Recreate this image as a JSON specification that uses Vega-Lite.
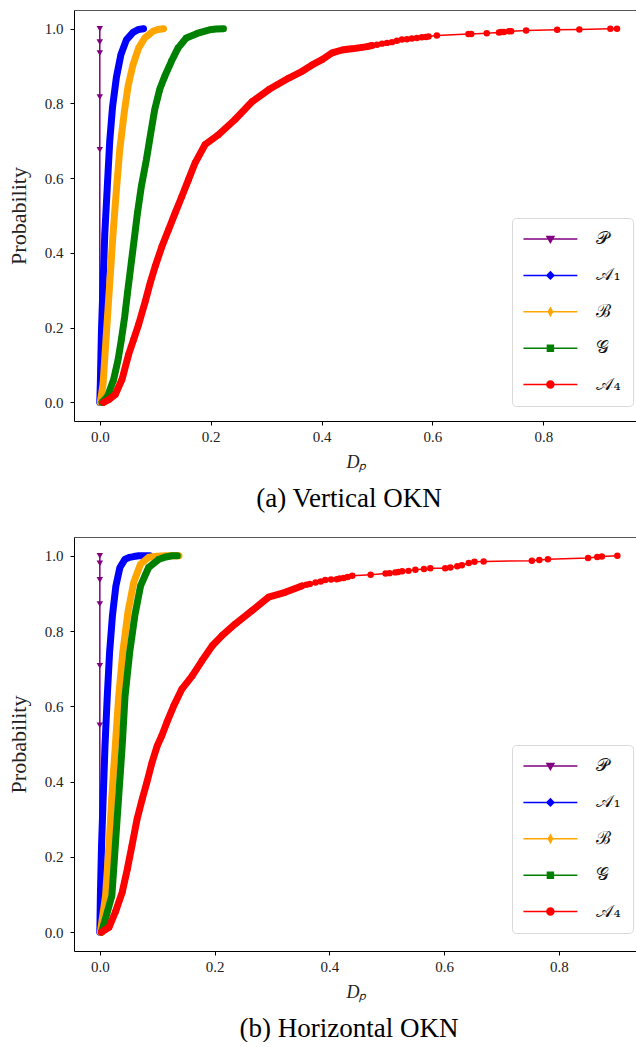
{
  "$schema": "https://vega.github.io/schema/vega-lite/v6.json",
  "padding": {"left": 7, "top": 10, "right": 0, "bottom": 0},
  "background": "white",
  "config": {
    "view": {"stroke": null},
    "axis": {
      "domainColor": "black", "tickColor": "black", "tickSize": 4, "grid": false,
      "labelFont": "Liberation Serif", "labelFontSize": 15, "labelColor": "#222",
      "titleFont": "Liberation Serif", "titleFontWeight": "normal", "titleColor": "#222",
      "labelFlush": false, "labelOverlap": false
    }
  },
  "datasets": {
    "v": [
      {"series":"P","x":0,"y":0},{"series":"P","x":0,"y":0.676},{"series":"P","x":0,"y":0.817},{"series":"P","x":0,"y":0.935},{"series":"P","x":0,"y":0.964},{"series":"P","x":0,"y":1},
      {"series":"A1","x":0,"y":0},{"series":"A1","x":0.001,"y":0.05},{"series":"A1","x":0.003,"y":0.19},{"series":"A1","x":0.006,"y":0.32},{"series":"A1","x":0.009,"y":0.45},{"series":"A1","x":0.014,"y":0.59},{"series":"A1","x":0.018,"y":0.7},{"series":"A1","x":0.023,"y":0.79},{"series":"A1","x":0.03,"y":0.87},{"series":"A1","x":0.038,"y":0.93},{"series":"A1","x":0.048,"y":0.97},{"series":"A1","x":0.06,"y":0.99},{"series":"A1","x":0.07,"y":0.998},{"series":"A1","x":0.079,"y":1},
      {"series":"B","x":0.001,"y":0},{"series":"B","x":0.006,"y":0.05},{"series":"B","x":0.012,"y":0.186},{"series":"B","x":0.018,"y":0.32},{"series":"B","x":0.024,"y":0.453},{"series":"B","x":0.03,"y":0.569},{"series":"B","x":0.036,"y":0.676},{"series":"B","x":0.044,"y":0.774},{"series":"B","x":0.051,"y":0.846},{"series":"B","x":0.06,"y":0.904},{"series":"B","x":0.07,"y":0.948},{"series":"B","x":0.081,"y":0.975},{"series":"B","x":0.096,"y":0.993},{"series":"B","x":0.105,"y":0.998},{"series":"B","x":0.115,"y":1},
      {"series":"G","x":0.004,"y":0},{"series":"G","x":0.014,"y":0.016},{"series":"G","x":0.025,"y":0.061},{"series":"G","x":0.033,"y":0.114},{"series":"G","x":0.039,"y":0.168},{"series":"G","x":0.045,"y":0.23},{"series":"G","x":0.05,"y":0.293},{"series":"G","x":0.056,"y":0.364},{"series":"G","x":0.062,"y":0.435},{"series":"G","x":0.068,"y":0.507},{"series":"G","x":0.075,"y":0.578},{"series":"G","x":0.084,"y":0.649},{"series":"G","x":0.092,"y":0.721},{"series":"G","x":0.099,"y":0.783},{"series":"G","x":0.108,"y":0.837},{"series":"G","x":0.117,"y":0.872},{"series":"G","x":0.129,"y":0.912},{"series":"G","x":0.141,"y":0.948},{"series":"G","x":0.156,"y":0.975},{"series":"G","x":0.177,"y":0.988},{"series":"G","x":0.198,"y":0.997},{"series":"G","x":0.21,"y":0.999},{"series":"G","x":0.223,"y":1},
      {"series":"A4","x":0.007,"y":0},{"series":"A4","x":0.016,"y":0.007},{"series":"A4","x":0.028,"y":0.021},{"series":"A4","x":0.04,"y":0.061},{"series":"A4","x":0.052,"y":0.128},{"series":"A4","x":0.061,"y":0.168},{"series":"A4","x":0.07,"y":0.208},{"series":"A4","x":0.082,"y":0.27},{"series":"A4","x":0.091,"y":0.32},{"series":"A4","x":0.1,"y":0.364},{"series":"A4","x":0.112,"y":0.417},{"series":"A4","x":0.124,"y":0.462},{"series":"A4","x":0.136,"y":0.507},{"series":"A4","x":0.148,"y":0.551},{"series":"A4","x":0.16,"y":0.596},{"series":"A4","x":0.172,"y":0.641},{"series":"A4","x":0.19,"y":0.69},{"series":"A4","x":0.214,"y":0.716},{"series":"A4","x":0.244,"y":0.757},{"series":"A4","x":0.275,"y":0.805},{"series":"A4","x":0.305,"y":0.837},{"series":"A4","x":0.341,"y":0.868},{"series":"A4","x":0.365,"y":0.886},{"series":"A4","x":0.383,"y":0.903},{"series":"A4","x":0.401,"y":0.917},{"series":"A4","x":0.419,"y":0.935},{"series":"A4","x":0.437,"y":0.943},{"series":"A4","x":0.446,"y":0.945},{"series":"A4","x":0.455,"y":0.946},{"series":"A4","x":0.464,"y":0.948},{"series":"A4","x":0.473,"y":0.95},{"series":"A4","x":0.482,"y":0.952},{"series":"A4","x":0.491,"y":0.955},{"series":"A4","x":0.5,"y":0.957},{"series":"A4","x":0.509,"y":0.96},{"series":"A4","x":0.518,"y":0.962},{"series":"A4","x":0.527,"y":0.964},{"series":"A4","x":0.536,"y":0.968},{"series":"A4","x":0.545,"y":0.971},{"series":"A4","x":0.554,"y":0.972},{"series":"A4","x":0.563,"y":0.974},{"series":"A4","x":0.572,"y":0.975},{"series":"A4","x":0.581,"y":0.977},{"series":"A4","x":0.588,"y":0.978},{"series":"A4","x":0.593,"y":0.979},{"series":"A4","x":0.608,"y":0.982},{"series":"A4","x":0.665,"y":0.986},{"series":"A4","x":0.67,"y":0.986},{"series":"A4","x":0.698,"y":0.988},{"series":"A4","x":0.72,"y":0.99},{"series":"A4","x":0.724,"y":0.991},{"series":"A4","x":0.729,"y":0.991},{"series":"A4","x":0.738,"y":0.993},{"series":"A4","x":0.742,"y":0.993},{"series":"A4","x":0.769,"y":0.995},{"series":"A4","x":0.825,"y":0.997},{"series":"A4","x":0.865,"y":0.998},{"series":"A4","x":0.921,"y":1},{"series":"A4","x":0.933,"y":1}
    ],
    "h": [
      {"series":"P","x":0,"y":0},{"series":"P","x":0,"y":0.55},{"series":"P","x":0,"y":0.708},{"series":"P","x":0,"y":0.872},{"series":"P","x":0,"y":0.936},{"series":"P","x":0,"y":0.98},{"series":"P","x":0,"y":1},
      {"series":"A1","x":0,"y":0},{"series":"A1","x":0.001,"y":0.097},{"series":"A1","x":0.003,"y":0.23},{"series":"A1","x":0.006,"y":0.363},{"series":"A1","x":0.009,"y":0.495},{"series":"A1","x":0.013,"y":0.628},{"series":"A1","x":0.017,"y":0.743},{"series":"A1","x":0.022,"y":0.841},{"series":"A1","x":0.028,"y":0.92},{"series":"A1","x":0.035,"y":0.969},{"series":"A1","x":0.044,"y":0.991},{"series":"A1","x":0.052,"y":0.996},{"series":"A1","x":0.059,"y":0.998},{"series":"A1","x":0.068,"y":1},{"series":"A1","x":0.083,"y":1},{"series":"A1","x":0.087,"y":1},
      {"series":"B","x":0.001,"y":0},{"series":"B","x":0.01,"y":0.097},{"series":"B","x":0.016,"y":0.23},{"series":"B","x":0.021,"y":0.363},{"series":"B","x":0.027,"y":0.495},{"series":"B","x":0.033,"y":0.628},{"series":"B","x":0.04,"y":0.743},{"series":"B","x":0.049,"y":0.85},{"series":"B","x":0.059,"y":0.929},{"series":"B","x":0.071,"y":0.978},{"series":"B","x":0.085,"y":0.996},{"series":"B","x":0.1,"y":0.999},{"series":"B","x":0.115,"y":1},{"series":"B","x":0.138,"y":1},
      {"series":"G","x":0.003,"y":0},{"series":"G","x":0.013,"y":0.053},{"series":"G","x":0.021,"y":0.097},{"series":"G","x":0.027,"y":0.23},{"series":"G","x":0.033,"y":0.363},{"series":"G","x":0.039,"y":0.495},{"series":"G","x":0.044,"y":0.628},{"series":"G","x":0.052,"y":0.743},{"series":"G","x":0.061,"y":0.841},{"series":"G","x":0.071,"y":0.92},{"series":"G","x":0.085,"y":0.969},{"series":"G","x":0.103,"y":0.991},{"series":"G","x":0.115,"y":0.997},{"series":"G","x":0.126,"y":1},{"series":"G","x":0.135,"y":1},
      {"series":"A4","x":0.003,"y":0},{"series":"A4","x":0.016,"y":0.013},{"series":"A4","x":0.027,"y":0.053},{"series":"A4","x":0.039,"y":0.106},{"series":"A4","x":0.048,"y":0.168},{"series":"A4","x":0.056,"y":0.23},{"series":"A4","x":0.065,"y":0.301},{"series":"A4","x":0.074,"y":0.354},{"series":"A4","x":0.082,"y":0.398},{"series":"A4","x":0.091,"y":0.451},{"series":"A4","x":0.1,"y":0.495},{"series":"A4","x":0.108,"y":0.522},{"series":"A4","x":0.117,"y":0.558},{"series":"A4","x":0.129,"y":0.602},{"series":"A4","x":0.143,"y":0.646},{"series":"A4","x":0.161,"y":0.681},{"series":"A4","x":0.178,"y":0.721},{"series":"A4","x":0.196,"y":0.761},{"series":"A4","x":0.213,"y":0.788},{"series":"A4","x":0.236,"y":0.819},{"series":"A4","x":0.265,"y":0.854},{"series":"A4","x":0.294,"y":0.89},{"series":"A4","x":0.323,"y":0.903},{"series":"A4","x":0.352,"y":0.92},{"series":"A4","x":0.36,"y":0.923},{"series":"A4","x":0.366,"y":0.925},{"series":"A4","x":0.376,"y":0.929},{"series":"A4","x":0.385,"y":0.932},{"series":"A4","x":0.393,"y":0.936},{"series":"A4","x":0.403,"y":0.937},{"series":"A4","x":0.413,"y":0.938},{"series":"A4","x":0.418,"y":0.94},{"series":"A4","x":0.425,"y":0.941},{"series":"A4","x":0.432,"y":0.944},{"series":"A4","x":0.44,"y":0.947},{"series":"A4","x":0.472,"y":0.95},{"series":"A4","x":0.498,"y":0.953},{"series":"A4","x":0.505,"y":0.954},{"series":"A4","x":0.515,"y":0.956},{"series":"A4","x":0.52,"y":0.957},{"series":"A4","x":0.527,"y":0.959},{"series":"A4","x":0.538,"y":0.96},{"series":"A4","x":0.55,"y":0.963},{"series":"A4","x":0.565,"y":0.965},{"series":"A4","x":0.576,"y":0.967},{"series":"A4","x":0.602,"y":0.967},{"series":"A4","x":0.611,"y":0.969},{"series":"A4","x":0.623,"y":0.972},{"series":"A4","x":0.631,"y":0.975},{"series":"A4","x":0.643,"y":0.981},{"series":"A4","x":0.653,"y":0.984},{"series":"A4","x":0.669,"y":0.985},{"series":"A4","x":0.753,"y":0.987},{"series":"A4","x":0.766,"y":0.989},{"series":"A4","x":0.781,"y":0.991},{"series":"A4","x":0.851,"y":0.994},{"series":"A4","x":0.867,"y":0.997},{"series":"A4","x":0.875,"y":0.998},{"series":"A4","x":0.902,"y":1}
    ]
  },
  "spacing": 25,
  "resolve": {"scale": {"color": "independent"}, "legend": {"color": "independent"}},
  "vconcat": [
    {
      "data": {"name": "v"},
      "width": 564, "height": 411,
      "title": {"text": "(a) Vertical OKN", "orient": "bottom", "anchor": "middle", "frame": "group", "offset": 15, "dx": -7, "font": "Liberation Serif", "fontSize": 27, "fontWeight": "normal", "color": "black"},
      "layer": [
        {
          "encoding": {
            "x": {"field": "x", "type": "quantitative", "scale": {"domain": [-0.0465, 0.9708], "nice": false, "zero": false},
                  "axis": {"values": [0, 0.2, 0.4, 0.6, 0.8], "format": ".1f", "title": "Dₚ", "titleFontSize": 18, "titleFontStyle": "italic", "titlePadding": 9, "labelPadding": 4}},
            "y": {"field": "y", "type": "quantitative", "scale": {"domain": [-0.05, 1.05], "nice": false, "zero": false},
                  "axis": {"values": [0, 0.2, 0.4, 0.6, 0.8, 1.0], "format": ".1f", "title": "Probability", "titleFontSize": 22, "titlePadding": 14, "labelPadding": 7}},
            "color": {"field": "series", "type": "nominal",
                      "scale": {"domain": ["P", "A1", "B", "G", "A4"], "range": ["#800080", "#0000ff", "#ffa500", "#008000", "#ff0000"]},
                      "legend": {"orient": "none", "legendX": 438, "legendY": 208, "title": null, "padding": 12, "cornerRadius": 4,
                                 "strokeColor": "#d9d9d9", "fillColor": "white", "symbolSize": 49, "symbolStrokeWidth": 1.5,
                                 "symbolOffset": 17.4, "labelOffset": 37, "rowPadding": 18.4,
                                 "labelFont": "DejaVu Serif", "labelFontSize": 18, "labelColor": "#111",
                                 "labelExpr": "datum.label==='P'?'𝒫':datum.label==='A1'?'𝒜₁':datum.label==='B'?'ℬ':datum.label==='G'?'𝒢':'𝒜₄'",
                                 "encode": {"symbols": {"update": {
                                   "shape": {"signal": "datum.value==='P'?'M-7.7,0H7.7M-1,-0.75H1L0,1Z':datum.value==='A1'?'M-7.7,0H7.7M0,-1L1,0L0,1L-1,0Z':datum.value==='B'?'M-7.7,0H7.7M0,-1.1L0.6,0L0,1.1L-0.6,0Z':datum.value==='G'?'M-7.7,0H7.7M-0.85,-0.85H0.85V0.85H-0.85Z':'M-7.7,0H7.7M-1,0A1,1,0,1,0,1,0A1,1,0,1,0,-1,0Z'"},
                                   "fill": {"signal": "datum.value==='P'?'#800080':datum.value==='A1'?'#0000ff':datum.value==='B'?'#ffa500':datum.value==='G'?'#008000':'#ff0000'"},
                                   "stroke": {"signal": "datum.value==='P'?'#800080':datum.value==='A1'?'#0000ff':datum.value==='B'?'#ffa500':datum.value==='G'?'#008000':'#ff0000'"},
                                   "strokeWidth": {"value": 1.5},
                                   "opacity": {"value": 1}
                                 }}}}},
            "order": {"value": null}
          },
          "layer": [
            {"transform": [{"filter": "datum.series==='P'"}], "mark": {"type": "line", "strokeWidth": 1.5}},
            {"transform": [{"filter": "datum.series==='P'"}], "mark": {"type": "point", "shape": "triangle-down", "filled": true, "size": 42, "opacity": 1}},
            {"transform": [{"filter": "datum.series==='A1'"}], "mark": {"type": "line", "strokeWidth": 7, "strokeCap": "round", "strokeJoin": "round"}},
            {"transform": [{"filter": "datum.series==='A1'"}], "mark": {"type": "point", "shape": "diamond", "filled": true, "size": 40, "opacity": 1}},
            {"transform": [{"filter": "datum.series==='B'"}], "mark": {"type": "line", "strokeWidth": 7, "strokeCap": "round", "strokeJoin": "round"}},
            {"transform": [{"filter": "datum.series==='B'"}], "mark": {"type": "point", "shape": "M0,-1L0.6,0L0,1L-0.6,0Z", "filled": true, "size": 49, "opacity": 1}},
            {"transform": [{"filter": "datum.series==='G'"}], "mark": {"type": "line", "strokeWidth": 7, "strokeCap": "round", "strokeJoin": "round"}},
            {"transform": [{"filter": "datum.series==='G'"}], "mark": {"type": "point", "shape": "square", "filled": true, "size": 30, "opacity": 1}},
            {"transform": [{"filter": "datum.series==='A4'"}], "mark": {"type": "line", "strokeWidth": 1.5}},
            {"transform": [{"filter": "datum.series==='A4' && datum.x < 0.5"}], "mark": {"type": "line", "strokeWidth": 7, "strokeCap": "round", "strokeJoin": "round"}},
            {"transform": [{"filter": "datum.series==='A4'"}], "mark": {"type": "point", "shape": "circle", "filled": true, "size": 42, "opacity": 1}}
          ]
        },
        {
          "transform": [{"filter": "false"}],
          "mark": {"type": "point"},
          "encoding": {
            "x": {"field": "x", "type": "quantitative", "scale": {"domain": [-0.0465, 0.9708], "nice": false, "zero": false},
                  "axis": {"orient": "top", "labels": false, "ticks": false, "title": null, "domainColor": "#555"}},
            "y": {"field": "y", "type": "quantitative", "scale": {"domain": [-0.05, 1.05], "nice": false, "zero": false}}
          }
        }
      ],
      "resolve": {"axis": {"x": "independent"}}
    },
    {
      "data": {"name": "h"},
      "width": 564, "height": 414,
      "title": {"text": "(b) Horizontal OKN", "orient": "bottom", "anchor": "middle", "frame": "group", "offset": 15, "dx": -7, "font": "Liberation Serif", "fontSize": 27, "fontWeight": "normal", "color": "black"},
      "layer": [
        {
          "encoding": {
            "x": {"field": "x", "type": "quantitative", "scale": {"domain": [-0.045, 0.938], "nice": false, "zero": false},
                  "axis": {"values": [0, 0.2, 0.4, 0.6, 0.8], "format": ".1f", "title": "Dₚ", "titleFontSize": 18, "titleFontStyle": "italic", "titlePadding": 9, "labelPadding": 4}},
            "y": {"field": "y", "type": "quantitative", "scale": {"domain": [-0.05, 1.05], "nice": false, "zero": false},
                  "axis": {"values": [0, 0.2, 0.4, 0.6, 0.8, 1.0], "format": ".1f", "title": "Probability", "titleFontSize": 22, "titlePadding": 14, "labelPadding": 7}},
            "color": {"field": "series", "type": "nominal",
                      "scale": {"domain": ["P", "A1", "B", "G", "A4"], "range": ["#800080", "#0000ff", "#ffa500", "#008000", "#ff0000"]},
                      "legend": {"orient": "none", "legendX": 438, "legendY": 208, "title": null, "padding": 12, "cornerRadius": 4,
                                 "strokeColor": "#d9d9d9", "fillColor": "white", "symbolSize": 49, "symbolStrokeWidth": 1.5,
                                 "symbolOffset": 17.4, "labelOffset": 37, "rowPadding": 18.4,
                                 "labelFont": "DejaVu Serif", "labelFontSize": 18, "labelColor": "#111",
                                 "labelExpr": "datum.label==='P'?'𝒫':datum.label==='A1'?'𝒜₁':datum.label==='B'?'ℬ':datum.label==='G'?'𝒢':'𝒜₄'",
                                 "encode": {"symbols": {"update": {
                                   "shape": {"signal": "datum.value==='P'?'M-7.7,0H7.7M-1,-0.75H1L0,1Z':datum.value==='A1'?'M-7.7,0H7.7M0,-1L1,0L0,1L-1,0Z':datum.value==='B'?'M-7.7,0H7.7M0,-1.1L0.6,0L0,1.1L-0.6,0Z':datum.value==='G'?'M-7.7,0H7.7M-0.85,-0.85H0.85V0.85H-0.85Z':'M-7.7,0H7.7M-1,0A1,1,0,1,0,1,0A1,1,0,1,0,-1,0Z'"},
                                   "fill": {"signal": "datum.value==='P'?'#800080':datum.value==='A1'?'#0000ff':datum.value==='B'?'#ffa500':datum.value==='G'?'#008000':'#ff0000'"},
                                   "stroke": {"signal": "datum.value==='P'?'#800080':datum.value==='A1'?'#0000ff':datum.value==='B'?'#ffa500':datum.value==='G'?'#008000':'#ff0000'"},
                                   "strokeWidth": {"value": 1.5},
                                   "opacity": {"value": 1}
                                 }}}}},
            "order": {"value": null}
          },
          "layer": [
            {"transform": [{"filter": "datum.series==='P'"}], "mark": {"type": "line", "strokeWidth": 1.5}},
            {"transform": [{"filter": "datum.series==='P'"}], "mark": {"type": "point", "shape": "triangle-down", "filled": true, "size": 42, "opacity": 1}},
            {"transform": [{"filter": "datum.series==='A1'"}], "mark": {"type": "line", "strokeWidth": 7, "strokeCap": "round", "strokeJoin": "round"}},
            {"transform": [{"filter": "datum.series==='A1'"}], "mark": {"type": "point", "shape": "diamond", "filled": true, "size": 40, "opacity": 1}},
            {"transform": [{"filter": "datum.series==='B'"}], "mark": {"type": "line", "strokeWidth": 7, "strokeCap": "round", "strokeJoin": "round"}},
            {"transform": [{"filter": "datum.series==='B'"}], "mark": {"type": "point", "shape": "M0,-1L0.6,0L0,1L-0.6,0Z", "filled": true, "size": 49, "opacity": 1}},
            {"transform": [{"filter": "datum.series==='G'"}], "mark": {"type": "line", "strokeWidth": 7, "strokeCap": "round", "strokeJoin": "round"}},
            {"transform": [{"filter": "datum.series==='G'"}], "mark": {"type": "point", "shape": "square", "filled": true, "size": 30, "opacity": 1}},
            {"transform": [{"filter": "datum.series==='A4'"}], "mark": {"type": "line", "strokeWidth": 1.5}},
            {"transform": [{"filter": "datum.series==='A4' && datum.x < 0.36"}], "mark": {"type": "line", "strokeWidth": 7, "strokeCap": "round", "strokeJoin": "round"}},
            {"transform": [{"filter": "datum.series==='A4'"}], "mark": {"type": "point", "shape": "circle", "filled": true, "size": 42, "opacity": 1}}
          ]
        },
        {
          "transform": [{"filter": "false"}],
          "mark": {"type": "point"},
          "encoding": {
            "x": {"field": "x", "type": "quantitative", "scale": {"domain": [-0.045, 0.938], "nice": false, "zero": false},
                  "axis": {"orient": "top", "labels": false, "ticks": false, "title": null, "domainColor": "#555"}},
            "y": {"field": "y", "type": "quantitative", "scale": {"domain": [-0.05, 1.05], "nice": false, "zero": false}}
          }
        }
      ],
      "resolve": {"axis": {"x": "independent"}}
    }
  ]
}
